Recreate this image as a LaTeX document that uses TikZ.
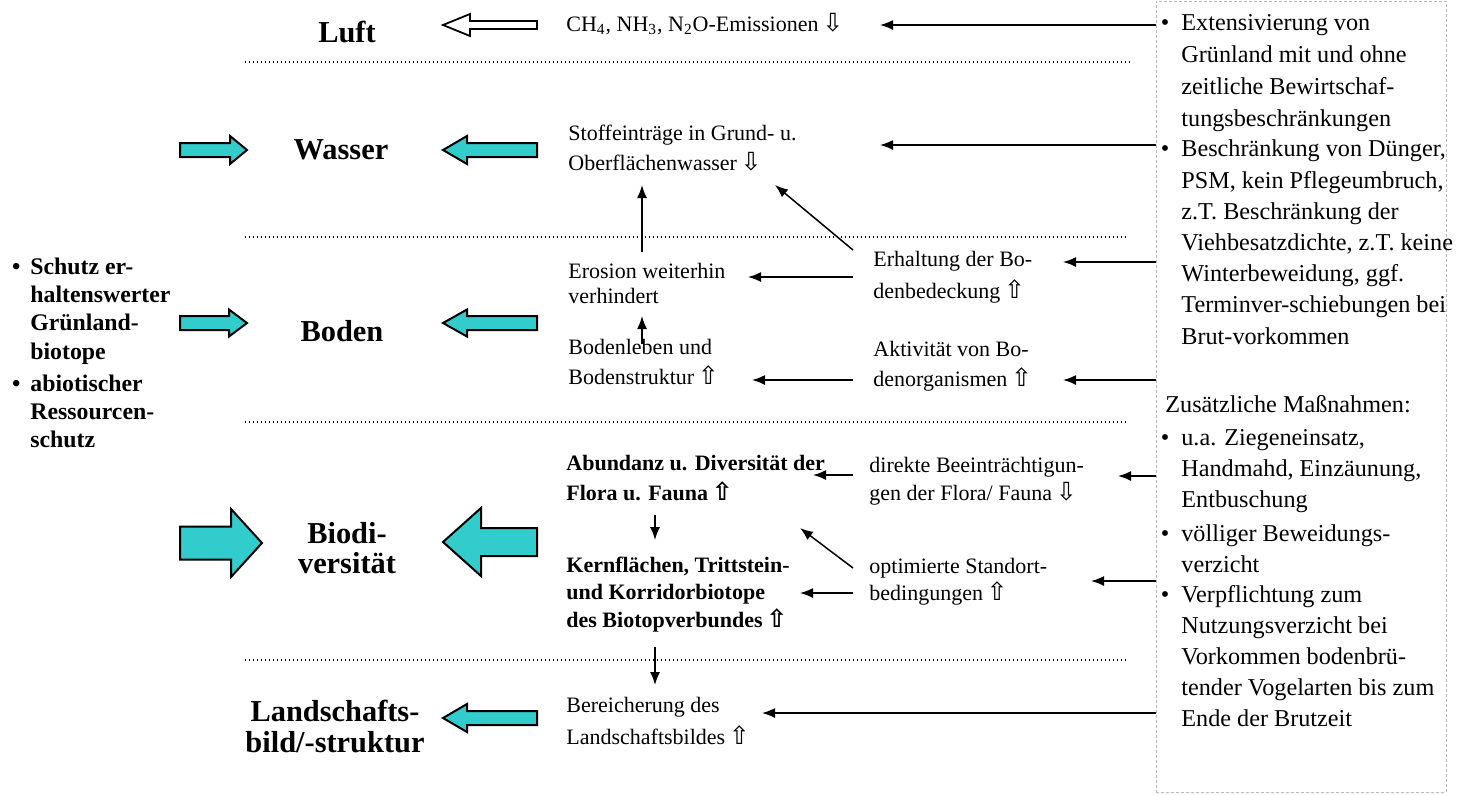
\documentclass[tikz,border=0pt]{standalone}
\usepackage{fontspec}
\setmainfont{Liberation Serif}
\newfontfamily\arrowsymfont{DejaVu Sans}
\usetikzlibrary{arrows.meta}

\definecolor{flowcyan}{RGB}{51,204,204}
\definecolor{boxgray}{RGB}{185,185,185}

% outlined trend arrows (increase / decrease)
\newcommand{\upsym}{\,{\arrowsymfont\fontsize{12.5}{12.5}\selectfont ⇧}}
\newcommand{\downsym}{\,{\arrowsymfont\fontsize{12.5}{12.5}\selectfont ⇩}}

% block arrow: [style] {tail x}{neck x}{tip x}{mid y}{half body}{half head}
\newcommand{\blockarrow}[7][fill=flowcyan]{%
  \draw[blockline,#1] (#2,{#5-#6}) -- (#3,{#5-#6}) -- (#3,{#5-#7}) -- (#4,#5)
    -- (#3,{#5+#7}) -- (#3,{#5+#6}) -- (#2,{#5+#6}) -- cycle;}

% multi-line nodes are placed by the baseline of their last line
\tikzset{
  blockline/.style={draw=black, line width=1pt, line join=miter},
  category/.style={font=\fontsize{15.2}{15.5}\selectfont\bfseries, align=center, anchor=base, inner sep=0pt},
  midtext/.style={font=\fontsize{11}{#1}\selectfont, align=left, anchor=base west, inner sep=0pt},
  midbold/.style={font=\fontsize{11}{#1}\selectfont\bfseries, align=left, anchor=base west, inner sep=0pt},
  goaltext/.style={font=\fontsize{11.9}{#1}\selectfont\bfseries, align=left, anchor=base west, inner sep=0pt},
  measuretext/.style={font=\fontsize{12.1}{#1}\selectfont, align=left, anchor=base west, inner sep=0pt},
  conn/.style={-{Latex[length=6.5pt,width=5pt]}, line width=0.75pt},
  sepline/.style={line width=0.7pt, dash pattern=on 0.7pt off 1.3pt},
  measurebox/.style={draw=boxgray, line width=0.5pt, dash pattern=on 1.5pt off 1pt,
    inner sep=0pt, outer sep=0pt, anchor=north west},
}

\begin{document}
\begin{tikzpicture}[x=0.5pt,y=-0.5pt]
\useasboundingbox (0,0) rectangle (1459,794);

% ---- frame with the measures -------------------------------------------
\node[measurebox, minimum width=145pt, minimum height=395.5pt] (measures) at (1156,1) {};

\node[measuretext=15.85pt] (m1) at (1181,126)
  {\llap{\textbullet\hspace{6pt}}Extensivierung von\\Grünland mit und ohne\\zeitliche Bewirtschaf-\\tungsbeschränkungen};
\node[measuretext=15.6pt] (m2) at (1181,344)
  {\llap{\textbullet\hspace{6pt}}Beschränkung von Dünger,\\PSM, kein Pflegeumbruch,\\z.T. Beschränkung der\\Viehbesatzdichte, z.T. keine\\Winterbeweidung, ggf.\\Terminver-schiebungen bei\\Brut-vorkommen};
\node[measuretext=15.6pt] (extra) at (1165,412) {Zusätzliche Maßnahmen:};
\node[measuretext=15.5pt] (m3) at (1181,507)
  {\llap{\textbullet\hspace{6pt}}u.a. Ziegeneinsatz,\\Handmahd, Einzäunung,\\Entbuschung};
\node[measuretext=15.5pt] (m4) at (1181,572)
  {\llap{\textbullet\hspace{6pt}}völliger Beweidungs-\\verzicht};
\node[measuretext=15.5pt] (m5) at (1181,726)
  {\llap{\textbullet\hspace{6pt}}Verpflichtung zum\\Nutzungsverzicht bei\\Vorkommen bodenbrü-\\tender Vogelarten bis zum\\Ende der Brutzeit};

% ---- goals on the left ---------------------------------------------------
\node[goaltext=14.15pt] (goal1) at (30,359)
  {\llap{\textbullet\hspace{5pt}}Schutz er-\\haltenswerter\\Grünland-\\biotope};
\node[goaltext=13.9pt] (goal2) at (30,447)
  {\llap{\textbullet\hspace{5pt}}abiotischer\\Ressourcen-\\schutz};

% ---- protected goods ------------------------------------------------------
\node[category] (luft) at (347,42) {Luft};
\node[category] (wasser) at (341,159) {Wasser};
\node[category] (boden) at (342,341) {Boden};
\node[category, font=\fontsize{15.2}{15pt}\selectfont\bfseries] (bio) at (347,573) {Biodi-\\versität};
\node[category, font=\fontsize{15.2}{15.5pt}\selectfont\bfseries] (land) at (335,752) {Landschafts-\\bild/-struktur};

% ---- separators -----------------------------------------------------------
\draw[sepline] (245,62) -- (1130,62);
\draw[sepline] (245,237) -- (1127,237);
\draw[sepline] (245,422) -- (1127,422);
\draw[sepline] (245,660) -- (1127,660);

% ---- block arrows ---------------------------------------------------------
\blockarrow[fill=white, line width=0.9pt]{537}{470}{443}{25}{4}{11}
\blockarrow{180}{230}{247}{150}{7}{14}
\blockarrow{537}{467}{443}{150}{7}{14}
\blockarrow{180}{229}{247}{323}{7}{13.5}
\blockarrow{537}{467}{443}{323}{7}{13.5}
\blockarrow{180}{231}{262}{543}{16.5}{34}
\blockarrow{537}{481}{443}{542}{14}{34}
\blockarrow{537}{467}{443}{718}{7}{14}

% ---- effects ---------------------------------------------------------------
\node[midtext=11pt] (emis) at (566,31)
  {CH\textsubscript{4}, NH\textsubscript{3}, N\textsubscript{2}O-Emissionen\downsym};
\node[midtext=15pt] (stoff) at (568,170)
  {Stoffeinträge in Grund- u.\\Oberflächenwasser\downsym};
\node[midtext=12.5pt] (erosion) at (568,303) {Erosion weiterhin\\verhindert};
\node[midtext=15pt] (leben) at (568,384) {Bodenleben und\\Bodenstruktur\upsym};
\node[midtext=16pt] (deck) at (873,298) {Erhaltung der Bo-\\denbedeckung\upsym};
\node[midtext=15pt] (aktiv) at (873,386) {Aktivität von Bo-\\denorganismen\upsym};
\node[midbold=15pt] (abund) at (566,500) {Abundanz u. Diversität der\\Flora u. Fauna\upsym};
\node[midbold=13.75pt] (kern) at (566,627) {Kernflächen, Trittstein-\\und Korridorbiotope\\des Biotopverbundes\upsym};
\node[midtext=14pt] (direkt) at (869,500) {direkte Beeinträchtigun-\\gen der Flora/ Fauna\downsym};
\node[midtext=13.5pt] (standort) at (869,600) {optimierte Standort-\\bedingungen\upsym};
\node[midtext=16pt] (bild) at (566,744) {Bereicherung des\\Landschaftsbildes\upsym};

% ---- connector end points ------------------------------------------------
\coordinate (toEmis) at (880,25);
\coordinate (toStoff) at (880,145);
\coordinate (toDeck) at (1063,262);
\coordinate (toAktiv) at (1063,380);
\coordinate (toDirekt) at (1118,476);
\coordinate (toStandort) at (1091,581);
\coordinate (toBild) at (762,713);

\coordinate (deckW) at (853,277);
\coordinate (deckNW) at (853,250);
\coordinate (erosionE) at (748,277);
\coordinate (stoffSE) at (775,185);
\coordinate (erosionN) at (642,252);
\coordinate (stoffS) at (642,185);
\coordinate (lebenN) at (642,344);
\coordinate (erosionS) at (642,316);
\coordinate (aktivW) at (853,380);
\coordinate (lebenE) at (752,380);
\coordinate (direktW) at (853,475);
\coordinate (abundE) at (813,475);
\coordinate (abundS) at (655,515);
\coordinate (kernN) at (655,540);
\coordinate (standortNW) at (853,568);
\coordinate (gapNE) at (800,528);
\coordinate (standortW) at (853,593);
\coordinate (kernE) at (800,593);
\coordinate (kernS) at (655,647);
\coordinate (bildN) at (655,685);

% ---- connectors --------------------------------------------------------------
\draw[conn] (measures.west |- toEmis) -- (toEmis);
\draw[conn] (measures.west |- toStoff) -- (toStoff);
\draw[conn] (measures.west |- toDeck) -- (toDeck);
\draw[conn] (measures.west |- toAktiv) -- (toAktiv);
\draw[conn] (measures.west |- toDirekt) -- (toDirekt);
\draw[conn] (measures.west |- toStandort) -- (toStandort);
\draw[conn] (measures.west |- toBild) -- (toBild);

\draw[conn] (deckW) -- (erosionE);
\draw[conn] (deckNW) -- (stoffSE);
\draw[conn] (erosionN) -- (stoffS);
\draw[conn] (lebenN) -- (erosionS);
\draw[conn] (aktivW) -- (lebenE);
\draw[conn] (direktW) -- (abundE);
\draw[conn] (abundS) -- (kernN);
\draw[conn] (standortNW) -- (gapNE);
\draw[conn] (standortW) -- (kernE);
\draw[conn] (kernS) -- (bildN);
\end{tikzpicture}
\end{document}
